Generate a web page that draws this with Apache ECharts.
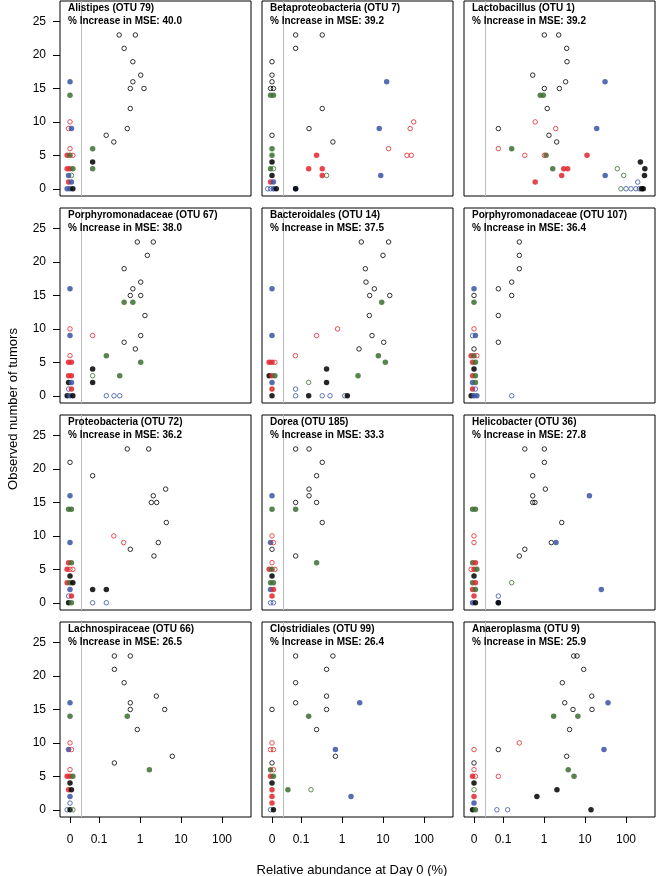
<!DOCTYPE html>
<html><head><meta charset="utf-8">
<script src="https://cdn.jsdelivr.net/npm/echarts@6/dist/echarts.min.js"></script>
<style>html,body{margin:0;padding:0;background:#fff}#c{width:660px;height:876px}</style>
</head><body><div id="c"></div>
<script>
// ---------- data ----------
const panelNames = ['Alistipes (OTU 79)','Betaproteobacteria (OTU 7)','Lactobacillus (OTU 1)',
  'Porphyromonadaceae (OTU 67)','Bacteroidales (OTU 14)','Porphyromonadaceae (OTU 107)',
  'Proteobacteria (OTU 72)','Dorea (OTU 185)','Helicobacter (OTU 36)',
  'Lachnospiraceae (OTU 66)','Clostridiales (OTU 99)','Anaeroplasma (OTU 9)'];
const mseValues = ['40.0','39.2','39.2','38.0','37.5','36.4','36.2','33.3','27.8','26.5','26.4','25.9'];
const xTickValues = [0, 0.1, 1, 10, 100];
const xTickLabels = ['0','0.1','1','10','100'];
const yTickValues = [0, 5, 10, 15, 20, 25];

// [relative abundance %, tumors, style]  style: k/r/b/g colour, o=open f=filled
const alistipes = [
 [0.31,23,'ko'],[0.77,23,'ko'],[0.41,21,'ko'],[0.67,19,'ko'],[1.04,17,'ko'],[0.67,16,'ko'],[0.58,15,'ko'],[1.25,15,'ko'],[0.58,12,'ko'],[0.49,9,'ko'],[0.15,8,'ko'],[0.23,7,'ko'],
 [0.07,6,'gf'],[0.07,4,'kf'],[0.07,3,'gf'],
 [0,16,'bf'],[0,14,'gf'],[0,10,'ro'],[0,9,'ro'],[0,9,'bf'],[0,6,'ro'],[0,5,'rf'],[0,5,'gf'],[0,5,'ro'],
 [0,3,'rf'],[0,3,'rf'],[0,3,'gf'],[0,2,'bf'],[0,2,'go'],[0,1,'rf'],[0,1,'bf'],[0,0,'bf'],[0,0,'bf'],[0,0,'kf']];
const betaproteobacteria = [
 [0.074,23,'ko'],[0.33,23,'ko'],[0.074,21,'ko'],[0,19,'ko'],[0,17,'ko'],[0,16,'ko'],[0,15,'ko'],[0,15,'ko'],[0.33,12,'ko'],[0.157,9,'ko'],[0,8,'ko'],[0.6,7,'ko'],
 [0,14,'gf'],[0,14,'gf'],[0,6,'gf'],[0,5,'gf'],[0,3,'gf'],[0,3,'go'],[0.42,2,'go'],
 [0,4,'kf'],[0,2,'kf'],
 [12.3,16,'bf'],[8.1,9,'bf'],[8.8,2,'bf'],[0.074,0,'bf'],[0.074,0,'kf'],
 [0.24,5,'rf'],[0.154,3,'rf'],[0.33,3,'rf'],[0.33,2,'rf'],
 [56,10,'ro'],[46,9,'ro'],[13.7,6,'ro'],[38.5,5,'ro'],[49,5,'ro'],
 [0,1,'rf'],[0,1,'bf'],[0,0,'bo'],[0,0,'bo'],[0,0,'bf'],[0,0,'kf']];
const lactobacillus = [
 [1.02,23,'ko'],[2.28,23,'ko'],[3.57,21,'ko'],[3.64,19,'ko'],[0.53,17,'ko'],[3.37,16,'ko'],[1.02,15,'ko'],[2.37,15,'ko'],[1.2,12,'ko'],[0.077,9,'ko'],[1.32,8,'ko'],[2.04,7,'ko'],
 [0.81,14,'gf'],[0.96,14,'gf'],[0.163,6,'gf'],[1.12,5,'gf'],[1.63,3,'gf'],
 [0.61,10,'ro'],[1.93,9,'ro'],[0.077,6,'ro'],[0.34,5,'ro'],[1.02,5,'ro'],
 [11.2,5,'rf'],[3.02,3,'rf'],[3.78,3,'rf'],[2.7,2,'rf'],[0.61,1,'rf'],
 [30.8,16,'bf'],[19.3,9,'bf'],[31,2,'bf'],
 [61.5,3,'go'],[87.7,2,'go'],[75,0,'go'],
 [193,1,'bo'],[100,0,'bo'],[132,0,'bo'],[174,0,'bo'],[211,0,'bo'],
 [224,4,'kf'],[288,3,'kf'],[282,2,'kf'],[240,0,'kf'],[263,0,'kf']];
const porphyromonadaceae67 = [
 [0.86,23,'ko'],[2.11,23,'ko'],[1.51,21,'ko'],[0.41,19,'ko'],[1.04,17,'ko'],[0.67,16,'ko'],[0.58,15,'ko'],[1.04,15,'ko'],[1.32,12,'ko'],[1.04,9,'ko'],[0.41,8,'ko'],[0.77,7,'ko'],
 [0.41,14,'gf'],[0.67,14,'gf'],[0.151,6,'gf'],[1.04,5,'gf'],[0.32,3,'gf'],[0.07,3,'go'],
 [0.07,4,'kf'],[0.07,2,'kf'],[0.07,9,'ro'],
 [0.151,0,'bo'],[0.232,0,'bo'],[0.32,0,'bo'],
 [0,16,'bf'],[0,10,'ro'],[0,9,'bf'],[0,6,'ro'],[0,5,'rf'],[0,5,'rf'],[0,3,'rf'],[0,3,'rf'],[0,2,'kf'],[0,2,'bf'],[0,1,'bo'],[0,1,'rf'],[0,0,'kf'],[0,0,'bf'],[0,0,'kf']];
const bacteroidales = [
 [2.96,23,'ko'],[13.7,23,'ko'],[10,21,'ko'],[3.71,19,'ko'],[3.85,17,'ko'],[6.15,16,'ko'],[4.73,15,'ko'],[14.6,15,'ko'],[4.64,12,'ko'],[5.4,9,'ko'],[10.4,8,'ko'],[2.6,7,'ko'],
 [9.3,14,'gf'],[7.7,6,'gf'],[11.4,5,'gf'],[2.46,3,'gf'],[0.154,2,'go'],
 [0.78,10,'ro'],[0.24,9,'ro'],[0.073,6,'ro'],
 [0.42,4,'kf'],[0.42,2,'kf'],[0.154,0,'kf'],
 [0.074,1,'bo'],[0.074,0,'bo'],[0.33,0,'bo'],[0.51,0,'bo'],[1.16,0,'bo'],[1.35,0,'kf'],
 [0,16,'bf'],[0,9,'bf'],[0,5,'rf'],[0,5,'rf'],[0,5,'ro'],[0,3,'kf'],[0,3,'rf'],[0,3,'gf'],[0,2,'bf'],[0,1,'rf'],[0,0,'kf']];
const porphyromonadaceae107 = [
 [0.25,23,'ko'],[0.25,21,'ko'],[0.25,19,'ko'],[0.163,17,'ko'],[0.077,16,'ko'],[0.163,15,'ko'],[0.077,12,'ko'],[0.077,8,'ko'],
 [0.163,0,'bo'],
 [0,16,'bf'],[0,15,'ko'],[0,14,'gf'],[0,10,'ro'],[0,9,'bo'],[0,9,'bf'],[0,7,'ko'],[0,6,'rf'],[0,6,'gf'],[0,6,'ro'],[0,5,'rf'],[0,5,'gf'],[0,4,'kf'],[0,3,'rf'],[0,3,'gf'],[0,2,'bf'],[0,2,'gf'],[0,1,'rf'],[0,1,'bo'],[0,0,'kf'],[0,0,'bf'],[0,0,'bf']];
const proteobacteria = [
 [0.49,23,'ko'],[1.63,23,'ko'],[0.07,19,'ko'],[4.23,17,'ko'],[2.11,16,'ko'],[1.89,15,'ko'],[2.55,15,'ko'],[4.39,12,'ko'],[2.8,9,'ko'],[0.58,8,'ko'],[2.19,7,'ko'],
 [0.23,10,'ro'],[0.40,9,'ro'],
 [0.07,2,'kf'],[0.151,2,'kf'],[0.07,0,'bo'],[0.151,0,'bo'],
 [0,21,'ko'],[0,16,'bf'],[0,14,'gf'],[0,14,'gf'],[0,9,'bf'],[0,6,'rf'],[0,6,'gf'],[0,5,'rf'],[0,5,'ro'],[0,5,'ro'],[0,4,'kf'],[0,3,'rf'],[0,3,'gf'],[0,3,'kf'],[0,2,'bf'],[0,1,'bo'],[0,1,'rf'],[0,0,'kf'],[0,0,'gf']];
const dorea = [
 [0.074,23,'ko'],[0.157,23,'ko'],[0.33,21,'ko'],[0.24,19,'ko'],[0.157,17,'ko'],[0.157,16,'ko'],[0.074,15,'ko'],[0.24,15,'ko'],[0.33,12,'ko'],[0.074,7,'ko'],
 [0.074,14,'gf'],[0.24,6,'gf'],
 [0,16,'bf'],[0,14,'gf'],[0,10,'ro'],[0,9,'bf'],[0,9,'ro'],[0,8,'ko'],[0,6,'ro'],[0,5,'rf'],[0,5,'gf'],[0,5,'ro'],[0,4,'kf'],[0,3,'gf'],[0,3,'gf'],[0,2,'bf'],[0,2,'rf'],[0,1,'rf'],[0,0,'bo'],[0,0,'bo']];
const helicobacter = [
 [0.34,23,'ko'],[1.02,23,'ko'],[1.02,21,'ko'],[0.53,19,'ko'],[1.08,17,'ko'],[0.53,16,'ko'],[0.53,15,'ko'],[0.6,15,'ko'],[2.7,12,'ko'],[1.51,9,'ko'],[0.34,8,'ko'],[0.25,7,'ko'],
 [12.8,16,'bf'],[1.96,9,'bf'],[25,2,'bf'],[0.163,3,'go'],[0.077,1,'bo'],[0.077,0,'bf'],[0.077,0,'kf'],
 [0,14,'gf'],[0,14,'gf'],[0,10,'ro'],[0,9,'ro'],[0,6,'gf'],[0,6,'rf'],[0,5,'ro'],[0,5,'rf'],[0,5,'gf'],[0,4,'kf'],[0,3,'gf'],[0,3,'rf'],[0,2,'rf'],[0,2,'gf'],[0,1,'rf'],[0,0,'bf'],[0,0,'kf']];
const lachnospiraceae = [
 [0.237,23,'ko'],[0.58,23,'ko'],[0.237,21,'ko'],[0.41,19,'ko'],[2.5,17,'ko'],[0.58,16,'ko'],[0.58,15,'ko'],[4.0,15,'ko'],[0.86,12,'ko'],[6.15,8,'ko'],[0.237,7,'ko'],
 [0.49,14,'gf'],[1.69,6,'gf'],
 [0,16,'bf'],[0,14,'gf'],[0,10,'ro'],[0,9,'bf'],[0,9,'ro'],[0,6,'ro'],[0,5,'rf'],[0,5,'rf'],[0,5,'gf'],[0,4,'kf'],[0,3,'rf'],[0,3,'kf'],[0,2,'bf'],[0,1,'bo'],[0,0,'bo'],[0,0,'kf'],[0,0,'go']];
const clostridiales = [
 [0.074,23,'ko'],[0.6,23,'ko'],[0.42,21,'ko'],[0.074,19,'ko'],[0.42,17,'ko'],[0.074,16,'ko'],[0.42,15,'ko'],[0.24,12,'ko'],[0.69,8,'ko'],
 [2.7,16,'bf'],[0.69,9,'bf'],[1.66,2,'bf'],[0.154,14,'gf'],[0.048,3,'gf'],[0.175,3,'go'],
 [0,15,'ko'],[0,10,'ro'],[0,9,'ro'],[0,9,'ro'],[0,7,'ko'],[0,6,'gf'],[0,6,'ro'],[0,5,'rf'],[0,5,'gf'],[0,4,'kf'],[0,3,'rf'],[0,2,'rf'],[0,1,'rf'],[0,0,'bo'],[0,0,'kf']];
const anaeroplasma = [
 [5.3,23,'ko'],[6.4,23,'ko'],[9.3,21,'ko'],[2.8,19,'ko'],[14.6,17,'ko'],[3.2,16,'ko'],[5.1,15,'ko'],[14.8,15,'ko'],[4.2,12,'ko'],[0.077,9,'ko'],[3.57,8,'ko'],
 [36.4,16,'bf'],[29,9,'bf'],
 [1.72,14,'gf'],[6.7,14,'gf'],[3.9,6,'gf'],[5.4,5,'gf'],
 [0.25,10,'ro'],[0.077,5,'ro'],
 [2.07,3,'kf'],[0.67,2,'kf'],[14,0,'kf'],[0.071,0,'bo'],[0.13,0,'bo'],
 [0,9,'ro'],[0,7,'ko'],[0,6,'ro'],[0,5,'rf'],[0,5,'ro'],[0,4,'kf'],[0,3,'go'],[0,2,'rf'],[0,1,'bf'],[0,0,'kf'],[0,0,'gf']];

const panelData = [alistipes, betaproteobacteria, lactobacillus, porphyromonadaceae67, bacteroidales,
  porphyromonadaceae107, proteobacteria, dorea, helicobacter, lachnospiraceae, clostridiales, anaeroplasma];

// ---------- layout / style ----------
const FONT = '"Liberation Sans", Arial, Helvetica, sans-serif';
const RED = '#e2262c', BLUE = '#3953a4', GREEN = '#3c6f30';
const STYLE = {ko:['#000',true], kf:['#000',false], ro:[RED,true], rf:[RED,false],
               bo:[BLUE,true], bf:[BLUE,false], go:[GREEN,true], gf:[GREEN,false]};
const ZERO_POS = -1.707, GRAY_POS = -1.427, DODGE = 0.07;
const X_MIN = -1.951, X_MAX = 2.707, Y_MIN = -1.08, Y_MAX = 28.08;
const COL_LEFT = [60, 262, 464], ROW_TOP = [1, 208, 415, 622], PW = 191, PH = 195;

function toPos(v){ return v > 0 ? Math.log10(v) : ZERO_POS; }
const xTickPos = xTickValues.map(toPos);

function buildItems(pts){
  const groups = {};
  pts.forEach((p,i)=>{ if(p[0]===0){ (groups[p[1]] = groups[p[1]] || []).push(i); } });
  const off = new Array(pts.length).fill(0);
  Object.values(groups).forEach(idx=>{ const n = idx.length; idx.forEach((j,k)=>{ off[j] = (k-(n-1)/2)*DODGE; }); });
  return pts.map((p,i)=>{
    const st = STYLE[p[2]], c = st[0], open = st[1];
    return {value:[toPos(p[0]) + off[i], p[1]], symbolSize: open ? 4.5 : 5.5,
      itemStyle: open ? {color:'rgba(255,255,255,0)', borderColor:c, borderWidth:1}
                      : {color:c, opacity:0.85, borderWidth:0}};
  });
}

const grids=[], xAxes=[], yAxes=[], series=[], titles=[];
panelData.forEach((pts,i)=>{
  const r = Math.floor(i/3), c = i%3;
  const L = COL_LEFT[c], T = ROW_TOP[r];
  grids.push({left:L, top:T, width:PW, height:PH, show:true, borderColor:'#000', borderWidth:1, backgroundColor:'#fff'});
  xAxes.push({type:'value', gridIndex:i, position:'bottom', min:X_MIN, max:X_MAX, splitLine:{show:false},
    axisLine:{show:false, onZero:false},
    axisTick:{show:r===3, customValues:xTickPos, length:6, lineStyle:{color:'#000'}},
    axisLabel:{show:r===3, customValues:xTickPos, margin:17, fontSize:12, color:'#000', fontFamily:FONT,
      formatter:(v)=>{ let k = xTickPos.findIndex(p=>Math.abs(p-v)<1e-6); return k>=0 ? xTickLabels[k] : ''; }}});
  yAxes.push({type:'value', gridIndex:i, position:'left', min:Y_MIN, max:Y_MAX, splitLine:{show:false},
    axisLine:{show:false, onZero:false},
    axisTick:{show:c===0, customValues:yTickValues, length:7, lineStyle:{color:'#000'}},
    axisLabel:{show:c===0, customValues:yTickValues, margin:14, fontSize:12, color:'#000', fontFamily:FONT}});
  series.push({type:'scatter', xAxisIndex:i, yAxisIndex:i, data:buildItems(pts), animation:false,
    markLine:{silent:true, symbol:'none', animation:false, label:{show:false},
      lineStyle:{color:'#bdbdbd', width:1, type:'solid'}, data:[{xAxis:GRAY_POS}]}});
  titles.push({text: panelNames[i] + '\n% Increase in MSE: ' + mseValues[i], left:L+8, top:T+1, padding:0,
    textStyle:{fontFamily:FONT, fontSize:10, fontWeight:'bold', lineHeight:13, color:'#000'}});
});

const chart = echarts.init(document.getElementById('c'), null, {renderer:'canvas'});
chart.setOption({
  animation:false, backgroundColor:'#fff', title:titles, grid:grids, xAxis:xAxes, yAxis:yAxes, series:series,
  graphic:[
    {type:'text', x:13, y:409, rotation:Math.PI/2, style:{text:'Observed number of tumors', font:'13px '+FONT, fill:'#000', align:'center', verticalAlign:'middle', textAlign:'center', textVerticalAlign:'middle'}},
    {type:'text', x:352, y:870, style:{text:'Relative abundance at Day 0 (%)', font:'13px '+FONT, fill:'#000', align:'center', verticalAlign:'middle', textAlign:'center', textVerticalAlign:'middle'}}
  ]
});
</script></body></html>
